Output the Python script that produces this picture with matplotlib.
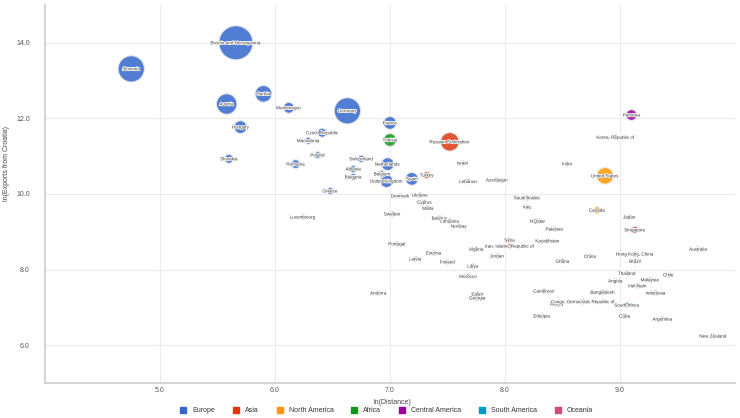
import numpy as np
import matplotlib.pyplot as plt
import matplotlib.patheffects as pe
from matplotlib.lines import Line2D

plt.rcParams['font.family'] = ['Liberation Sans', 'DejaVu Sans']

# data
countries = ['Slovenia', 'Bosnia and Herzegovina', 'Austria', 'Serbia', 'Hungary', 'Slovakia',
             'Montenegro', 'Germany', 'France', 'Czech Republic', 'Macedonia', 'Poland', 'Romania',
             'Switzerland', 'Netherlands', 'Albania', 'Bulgaria', 'Belgium', 'United Kingdom', 'Spain',
             'Greece', 'Denmark', 'Luxembourg', 'Sweden', 'Ukraine', 'Cyprus', 'Malta', 'Belarus',
             'Lithuania', 'Portugal', 'Latvia', 'Estonia', 'Finland', 'Andorra', 'Norway',
             'Tunisia', 'Algeria', 'Libya', 'Morocco', 'Egypt', 'Nigeria', 'Ghana', 'Kenya',
             'Ethiopia', 'Congo, Democratic Republic of', 'South Africa', 'Angola', 'Cameroon',
             'Russian Federation', 'Turkey', 'Israel', 'Lebanon', 'Azerbaijan', 'Georgia', 'Syria',
             'Jordan', 'Iraq', 'Iran, Islamic Republic of', 'Kazakhstan', 'Saudi Arabia', 'Qatar',
             'Pakistan', 'India', 'Korea, Republic of', 'Japan', 'Singapore', 'Viet Nam', 'Thailand',
             'Malaysia', 'Indonesia', 'Hong Kong, China', 'Bangladesh', 'China',
             'United States', 'Canada', 'Panama', 'Cuba', 'Argentina', 'Chile', 'Brazil',
             'Australia', 'New Zealand']
regions = (['Europe'] * 35 + ['Africa'] * 13 + ['Asia'] * 25 + ['North America'] * 2
           + ['Central America'] * 2 + ['South America'] * 3 + ['Oceania'] * 2)
ln_distance = [4.75, 5.66, 5.58, 5.90, 5.70, 5.60, 6.12, 6.63, 7.00, 6.41, 6.29, 6.37, 6.18,
               6.75, 6.98, 6.68, 6.68, 6.93, 6.97, 7.19, 6.48, 7.09, 6.24, 7.02, 7.26, 7.30,
               7.33, 7.43, 7.52, 7.06, 7.22, 7.38, 7.50, 6.90, 7.60,
               7.00, 7.75, 7.72, 7.68, 7.76, 8.28, 8.50, 8.45, 8.32, 8.68, 9.06, 8.96, 8.34,
               7.52, 7.32, 7.63, 7.68, 7.93, 7.76, 8.04, 7.93, 8.19, 8.04, 8.37, 8.19, 8.30,
               8.43, 8.54, 8.96, 9.08, 9.13, 9.15, 9.06, 9.26, 9.31, 9.13, 8.85, 8.74,
               8.87, 8.80, 9.10, 9.04, 9.37, 9.42, 9.13,
               9.68, 9.81]
ln_trade = [13.31, 14.00, 12.38, 12.65, 11.77, 10.93, 12.28, 12.20, 11.88, 11.62, 11.41, 11.03,
            10.79, 10.93, 10.79, 10.66, 10.45, 10.53, 10.34, 10.40, 10.08, 9.95, 9.39, 9.47,
            9.97, 9.78, 9.62, 9.36, 9.28, 8.68, 8.28, 8.44, 8.20, 7.38, 9.15,
            11.43, 8.54, 8.09, 7.82, 7.35, 9.28, 8.22, 7.09, 6.77, 7.15, 7.06, 7.70, 7.43,
            11.38, 10.50, 10.82, 10.33, 10.37, 7.25, 8.78, 8.36, 9.66, 8.62, 8.76, 9.90, 9.28,
            9.07, 10.80, 11.50, 9.39, 9.05, 7.57, 7.90, 7.73, 7.38, 8.41, 7.40, 8.35,
            10.48, 9.57, 12.09, 6.77, 6.69, 7.86, 8.22,
            8.54, 6.24]
trade_value = [13, 17, 10, 8, 6, 4, 5, 13, 6, 4, 3, 3, 4, 3, 6, 3, 3, 3, 6, 6, 3, 2, 2, 2, 2, 2,
               2, 2, 2, 2, 2, 2, 2, 2, 2,
               6, 2, 2, 2, 2, 2, 2, 2, 2, 2, 2, 2, 2,
               9, 3, 2, 2, 2, 2, 2, 2, 2, 2, 2, 2, 2, 2, 2, 2, 2, 3, 2, 2, 2, 2, 2, 2, 2,
               8, 3, 5, 2, 2, 2, 2,
               2, 2]

region_order = ['Europe', 'Asia', 'North America', 'Africa', 'Central America',
                'South America', 'Oceania']
region_colors = {'Europe': '#3366cc', 'Asia': '#dc3912', 'North America': '#ff9900',
                 'Africa': '#109618', 'Central America': '#990099',
                 'South America': '#0099c6', 'Oceania': '#dd4477'}

fig = plt.figure(figsize=(7.4, 4.18), dpi=100)
ax = fig.add_axes([45 / 740, 35 / 418, 690 / 740, 378 / 418])

w = np.array(trade_value, dtype=float)
radius_px = 2.5 + (w - w.min()) / (w.max() - w.min()) * 14.5
s = (2 * radius_px * 0.72) ** 2
order = np.argsort(-w)
x = np.array(ln_distance)[order]
y = np.array(ln_trade)[order]
cols = [region_colors[regions[i]] for i in order]
ax.scatter(x, y, s=s[order], c=cols, alpha=0.85, edgecolors='#e8e8e8',
           linewidths=0.8, zorder=3)

for i in order:
    ax.text(ln_distance[i], ln_trade[i], countries[i], fontsize=3.3, color='#333333',
            ha='center', va='center', zorder=4,
            path_effects=[pe.withStroke(linewidth=1.0, foreground='white')])

ax.set_xlim(4, 10)
ax.set_ylim(5, 15)
ax.set_xticks([5, 6, 7, 8, 9])
ax.set_yticks([6, 8, 10, 12, 14])
ax.xaxis.set_major_formatter(plt.FormatStrFormatter('%.1f'))
ax.yaxis.set_major_formatter(plt.FormatStrFormatter('%.1f'))
ax.tick_params(length=0, labelsize=5, labelcolor='#555555')
ax.tick_params(axis='y', pad=11)
ax.tick_params(axis='x', pad=3)
ax.grid(True, color='#ebebeb', linewidth=0.8)
ax.set_axisbelow(True)
for side in ['top', 'right']:
    ax.spines[side].set_visible(False)
for side in ['left', 'bottom']:
    ax.spines[side].set_color('#cccccc')
    ax.spines[side].set_linewidth(1.2)

ax.set_xlabel('ln(Distance)', fontsize=5, color='#444444')
ax.xaxis.set_label_coords(0.503, -0.042)
ax.set_ylabel('ln(Exports from Croatia)', fontsize=5, color='#444444')
ax.yaxis.set_label_coords(-0.05, 0.58)

handles = [Line2D([], [], marker='s', linestyle='', markersize=5,
                  markerfacecolor=region_colors[r], markeredgecolor=region_colors[r])
           for r in region_order]
fig.legend(handles, region_order, loc='center', bbox_to_anchor=(0.52, 0.018), ncol=7,
           frameon=False, fontsize=5, handletextpad=0.3, columnspacing=2.0,
           labelcolor='#333333')

fig.savefig('out.png', dpi=100)
